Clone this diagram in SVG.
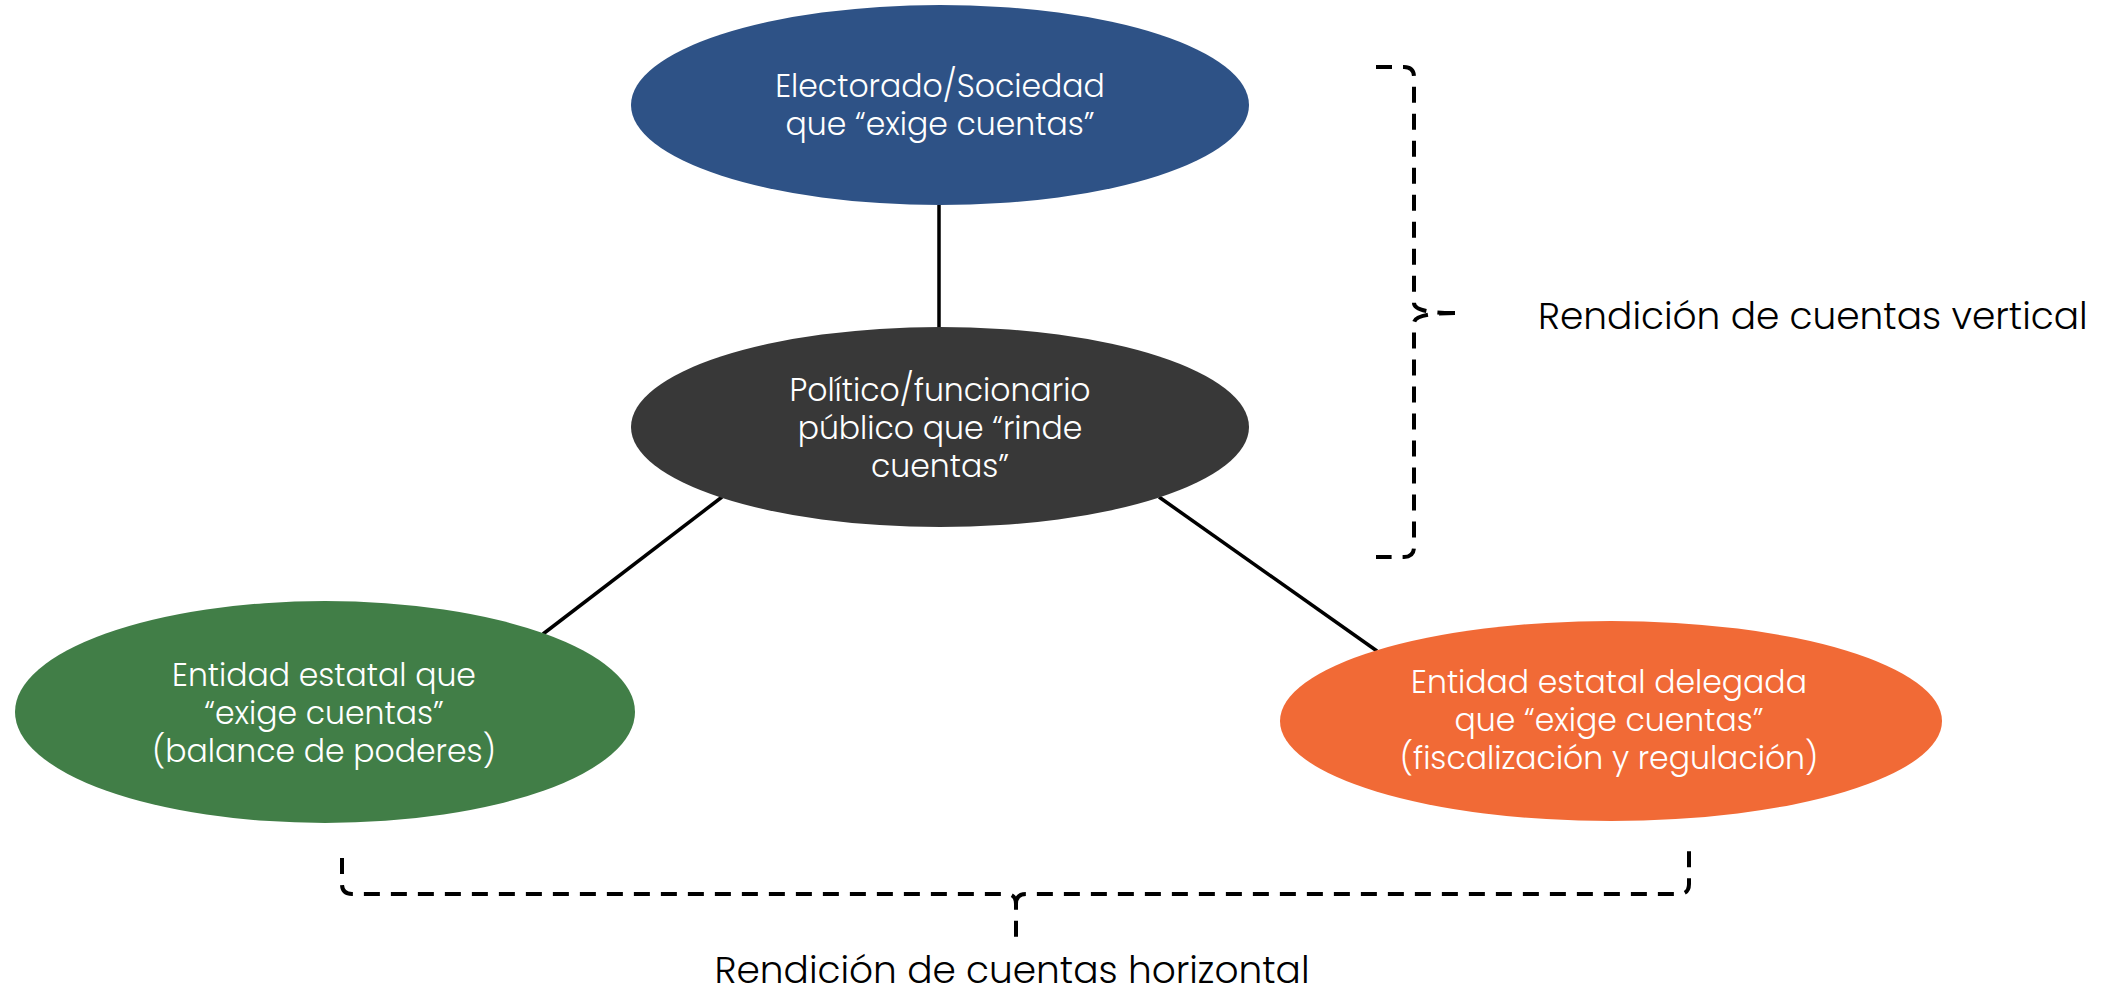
<svg xmlns="http://www.w3.org/2000/svg" width="2116" height="992" viewBox="0 0 2116 992">
<style>
.nt{font-family:"Poppins","Open Sans","Liberation Sans",sans-serif;font-weight:300;font-size:31.5px;fill:#ffffff;text-anchor:middle}
.lb{font-family:"Poppins","Open Sans","Liberation Sans",sans-serif;font-weight:300;font-size:37.5px;fill:#000000}
.edge{stroke:#000;stroke-width:3.5;fill:none}
.brace{stroke:#000;stroke-width:4;fill:none;stroke-dasharray:16 11}
</style>
<rect width="2116" height="992" fill="#ffffff"/>
<g id="connectors">
<line class="edge" x1="939" y1="205" x2="939" y2="328"/>
<line class="edge" x1="722" y1="497" x2="543" y2="634"/>
<line class="edge" x1="1159" y1="497" x2="1377" y2="651"/>
</g>
<g id="n-electorado">
<ellipse cx="940" cy="105" rx="309" ry="100" fill="#2E5286"/>
<text class="nt"><tspan x="940" y="97">Electorado/Sociedad</tspan><tspan x="940" y="135">que “exige cuentas”</tspan></text>
</g>
<g id="n-politico">
<ellipse cx="940" cy="427" rx="309" ry="100" fill="#383838"/>
<text class="nt"><tspan x="940" y="401">Político/funcionario</tspan><tspan x="940" y="439">público que “rinde</tspan><tspan x="940" y="477">cuentas”</tspan></text>
</g>
<g id="n-entidad">
<ellipse cx="325" cy="712" rx="310" ry="111" fill="#417E47"/>
<text class="nt"><tspan x="324" y="686">Entidad estatal que</tspan><tspan x="324" y="724">“exige cuentas”</tspan><tspan x="324" y="762">(balance de poderes)</tspan></text>
</g>
<g id="n-delegada">
<ellipse cx="1611" cy="721" rx="331" ry="100" fill="#F16A36"/>
<text class="nt"><tspan x="1609" y="693">Entidad estatal delegada</tspan><tspan x="1609" y="731">que “exige cuentas”</tspan><tspan x="1609" y="769">(fiscalización y regulación)</tspan></text>
</g>
<g id="brace-vertical">
<path class="brace" d="M1376,67 H1404 Q1414,67 1414,77 V303 Q1414,313 1455,313 M1455,313 Q1414,313 1414,323 V547 Q1414,557 1404,557 H1376"/>
<text class="lb" x="1538" y="329">Rendición de cuentas vertical</text>
</g>
<g id="brace-horizontal">
<path class="brace" d="M342,858 V884 Q342,894 352,894 H1006 Q1016,894 1016,904 V943 M1016,904 Q1016,894 1026,894 H1679 Q1689,894 1689,884 V847"/>
<text class="lb" x="1012" y="983" text-anchor="middle">Rendición de cuentas horizontal</text>
</g>
</svg>
